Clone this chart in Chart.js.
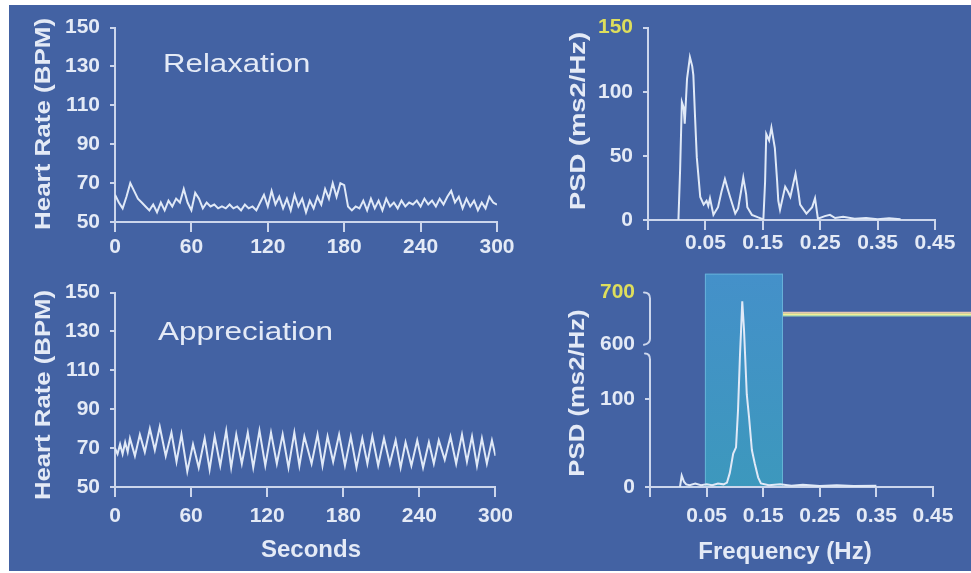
<!DOCTYPE html>
<html><head><meta charset="utf-8">
<script src="https://cdn.jsdelivr.net/npm/chart.js@4.4.1/dist/chart.umd.min.js"></script>
<style>
html,body{margin:0;padding:0;background:#fff;}
#wrap{position:relative;width:971px;height:573px;overflow:hidden;background:#fff;}
#panel{position:absolute;left:9px;top:5px;width:962px;height:566px;background:#4362a3;}
canvas{position:absolute;}
</style></head><body>
<div id="wrap"><div id="panel"></div>
<canvas id="cA" width="511" height="265" style="left:9px;top:5px"></canvas>
<canvas id="cB" width="451" height="265" style="left:520px;top:5px"></canvas>
<canvas id="cC" width="511" height="301" style="left:9px;top:270px"></canvas>
<canvas id="cD" width="451" height="301" style="left:520px;top:270px"></canvas>
</div>
<script>
// ---------------- DATA ----------------
const relaxStep = 3; // seconds between samples
const relaxHR = [64,60,57,63,70,66,62,60,58,56,
  59,55,60,56,61,58,62,60,67,60,
  56,65,62,57,60,58,59,57,58,57,
  59,57,58,56,59,57,58,56,60,64,
  58,66,59,63,57,62,56,64,58,62,
  55,61,57,63,59,67,62,70,63,70,
  69,58,56,58,57,61,56,62,57,61,
  56,62,58,60,57,61,58,60,59,61,
  58,62,59,61,58,62,59,63,66,60,
  63,57,62,58,61,56,60,57,63,60,
  59];
const apprTime = [0,2,4,6,8,10,11.8,15.7,19.6,23.5,27.5,31.4,35.3,40,44.5,48.5,
  52.4,57,61.5,66,70.7,74.6,78.6,83,87.7,91.6,95.6,100,104.7,109,113.9,118.5,123,127.6,132.2,136.8,
  141.4,145.4,149.3,155,159.7,163.6,167.6,172,176.7,181.3,185.9,190.4,195,199,202.9,207.5,212.1,216.7,221.3,225.2,
  229.1,233.7,238.3,242.9,247.5,251.4,255.3,260,264.5,269,273.6,277.5,281.5,285.4,289.3,293.2,297.2,300];
const apprHR = [70,67,72,67,73,68,75,66,77,68,80,69,81,66,78,63,
  77,58,72,60,75,59,76,61,79,60,77,62,78,60,79,61,78,62,77,60,
  78,61,76,62,77,61,76,63,77,61,76,60,75,62,76,61,75,62,74,60,
  73,61,74,60,73,62,74,64,76,62,77,63,76,61,75,62,74,66];

const relaxFreq = [0.003,0.006,0.009,0.012,0.014,0.018,0.023,0.027,0.029,0.032,
  0.035,0.041,0.047,0.052,0.055,0.058,0.064,0.072,0.078,0.084,
  0.089,0.093,0.102,0.107,0.112,0.116,0.121,0.123,0.131,0.142,
  0.151,0.154,0.156,0.161,0.165,0.171,0.175,0.177,0.180,0.189,
  0.194,0.198,0.207,0.212,0.215,0.226,0.236,0.241,0.246,0.258,
  0.267,0.276,0.29,0.31,0.33,0.35,0.37,0.39];
const relaxPSD = [0,40,92,88,75,110,127,120,113,80,
  49,18,12,15,11,17,4,10,22,32,
  24,18,5,9,22,33,20,10,4,2,
  0.5,30,67,62,72,56,30,15,8,26,
  22,18,36,22,12,5,10,17,1,3,
  4,1.5,2.5,1,1.5,0.6,1.3,0.5];

const apprFreq = [0.003,0.006,0.010,0.014,0.02,0.03,0.04,0.05,0.06,0.07,
  0.08,0.086,0.091,0.097,0.102,0.1055,0.109,0.111,0.113,0.116,
  0.118,0.121,0.125,0.130,0.135,0.141,0.146,0.16,0.18,0.2,
  0.22,0.25,0.28,0.31,0.35];
const apprPSD = [0,13,6,3,2,4,2,3,2,4,
  3,5,16,38,45,87,150,629,683,630,
  150,105,79,42,27,11,4,2,3,1.5,
  2.5,1,2,1,1.5];

const hrTicks = [50,70,90,110,130,150];
const secTicks = [0,60,120,180,240,300];
const freqTicks = [-0.05,0.05,0.15,0.25,0.35,0.45];
const psdTicksTop = [0,50,100,150];
const psdTicksBottom = [0,100,600,700];
const psdBreak = [150,590];          // values hidden by the axis break
const coherenceBand = [0.047,0.185]; // highlighted frequency band (Hz)

// ---------------- STYLE ----------------
const FONT = "'Liberation Sans', Arial, Helvetica, sans-serif";
const LABEL = '#e4eaf6';
const AXIS = '#ccd6ec';
const TRACE = '#e0e9f7';
const YELLOW = '#dede5c';
const tickFont = {family: FONT, size: 21, weight: 'bold'};

// Broken linear scale (axis break between psdBreak[0] and psdBreak[1])
class BrokenScale extends Chart.LinearScale {
  _frac(v) {
    const lo = psdBreak[0], hi = psdBreak[1], lowShare = 0.68, gapShare = 0.03;
    const mx = this.max;
    if (v <= lo) return (v - this.min) / (lo - this.min) * lowShare;
    if (v <= hi) return lowShare + (v - lo) / (hi - lo) * gapShare;
    return lowShare + gapShare + (v - hi) / (mx - hi) * (1 - lowShare - gapShare);
  }
  getPixelForValue(v) {
    return this.bottom - this._frac(v) * (this.bottom - this.top);
  }
  getValueForPixel(p) {
    const f = (this.bottom - p) / (this.bottom - this.top);
    const lo = psdBreak[0], hi = psdBreak[1], lowShare = 0.68, gapShare = 0.03;
    if (f <= lowShare) return this.min + f / lowShare * (lo - this.min);
    if (f <= lowShare + gapShare) return lo + (f - lowShare) / gapShare * (hi - lo);
    return hi + (f - lowShare - gapShare) / (1 - lowShare - gapShare) * (this.max - hi);
  }
}
BrokenScale.id = 'brokenLinear';
Chart.register(BrokenScale);

const overlayText = {
  id: 'overlayText',
  afterDraw(chart, args, opts) {
    const ctx = chart.ctx;
    (opts.items || []).forEach(it => {
      ctx.save();
      ctx.translate(it.x, it.y);
      if (it.rot) ctx.rotate(it.rot);
      ctx.scale(it.sx || 1, 1);
      ctx.font = it.font;
      ctx.fillStyle = it.color || LABEL;
      ctx.textAlign = it.align || 'center';
      ctx.textBaseline = it.baseline || 'middle';
      ctx.fillText(it.text, 0, 0);
      ctx.restore();
    });
  }
};

const psdDecor = {
  id: 'psdDecor',
  beforeDraw(chart, args, o) {
    const {ctx, scales: {x, y}} = chart;
    const x0 = x.getPixelForValue(o.band[0]), x1 = x.getPixelForValue(o.band[1]);
    const yT = y.getPixelForValue(o.bandTop), yB = y.getPixelForValue(0);
    const g = ctx.createLinearGradient(0, yT, 0, yB);
    g.addColorStop(0, 'rgba(70,190,240,0.5)');
    g.addColorStop(1, 'rgba(55,205,215,0.5)');
    ctx.save();
    ctx.fillStyle = g;
    ctx.fillRect(x0, yT, x1 - x0, yB - yT);
    ctx.strokeStyle = 'rgba(140,210,235,0.5)';
    ctx.lineWidth = 1;
    ctx.strokeRect(x0 + 0.5, yT + 0.5, x1 - x0 - 1, yB - yT - 1);
    ctx.restore();
  },
  beforeDatasetsDraw(chart) {
    const {ctx, scales: {y}, chartArea} = chart;
    const xa = chartArea.left;
    const pTop = y.getPixelForValue(y.max);
    const p600 = y.getPixelForValue(psdTicksBottom[2]);
    const pLow = y.getPixelForValue(psdBreak[0] - 2);
    ctx.save();
    ctx.strokeStyle = AXIS; ctx.lineWidth = 2; ctx.lineCap = 'round';
    ctx.beginPath();
    ctx.moveTo(xa - 6, pTop);
    ctx.quadraticCurveTo(xa, pTop, xa, pTop + 6);
    ctx.lineTo(xa, p600 - 5);
    ctx.quadraticCurveTo(xa, p600, xa - 6, p600 + 1);
    ctx.stroke();
    ctx.beginPath();
    ctx.moveTo(xa - 5, pLow - 3);
    ctx.quadraticCurveTo(xa, pLow - 3, xa, pLow + 3);
    ctx.lineTo(xa, chartArea.bottom);
    ctx.stroke();
    ctx.restore();
  },
  afterDraw(chart, args, o) {
    const {ctx, scales: {x, y}, width} = chart;
    const x1 = x.getPixelForValue(o.band[1]);
    const ym = y.getPixelForValue(o.marker);
    ctx.save();
    ctx.lineWidth = 1.5; ctx.strokeStyle = '#e6c7b4';
    ctx.beginPath(); ctx.moveTo(x1, ym - 1.6); ctx.lineTo(width, ym - 1.6); ctx.stroke();
    ctx.lineWidth = 1.5; ctx.strokeStyle = '#9fd6b6';
    ctx.beginPath(); ctx.moveTo(x1, ym + 1.6); ctx.lineTo(width, ym + 1.6); ctx.stroke();
    ctx.lineWidth = 2; ctx.strokeStyle = '#f4ef96';
    ctx.beginPath(); ctx.moveTo(x1, ym); ctx.lineTo(width, ym); ctx.stroke();
    ctx.restore();
  }
};

function fixedTicks(values) { return s => { s.ticks = values.map(v => ({value: v})); }; }

function axisX(o) {
  return {
    type: 'linear', min: o.min, max: o.max,
    afterBuildTicks: fixedTicks(o.ticks),
    afterFit: s => { s.height = o.height; },
    ticks: {font: tickFont, color: LABEL, padding: o.pad, maxRotation: 0, minRotation: 0, autoSkip: false,
      callback: o.cb || (v => String(v))},
    grid: {drawOnChartArea: false, drawTicks: true, tickLength: 10, color: AXIS, lineWidth: 2},
    border: {display: true, color: AXIS, width: 2}
  };
}
function axisY(o) {
  return {
    type: o.type || 'linear', min: o.min, max: o.max,
    afterBuildTicks: fixedTicks(o.ticks),
    afterFit: s => { s.width = o.width; },
    ticks: {font: tickFont, color: o.color || LABEL, padding: 10, autoSkip: false, callback: v => String(v)},
    grid: {drawOnChartArea: false, drawTicks: true, tickLength: 5, color: o.gridColor || AXIS, lineWidth: 2},
    border: {display: o.border !== false, color: AXIS, width: 2}
  };
}
function makeChart(id, points, scales, padding, items, extra, extraOpts) {
  const plugins = {legend: {display: false}, tooltip: {enabled: false}, overlayText: {items}};
  Object.assign(plugins, extraOpts || {});
  return new Chart(document.getElementById(id), {
    type: 'line',
    data: {datasets: [{data: points, borderColor: TRACE, borderWidth: 2, pointRadius: 0, tension: 0, fill: false}]},
    options: {responsive: false, animation: false, devicePixelRatio: 1, layout: {padding}, plugins, scales},
    plugins: [overlayText].concat(extra || [])
  });
}
const freqLabel = v => (Math.abs(v + 0.05) < 1e-9 ? '' : v.toFixed(2));
const hl = c => (c.tick && (c.tick.value === 150 || c.tick.value === 700) ? YELLOW : LABEL);

// A: Relaxation heart rate
makeChart('cA', relaxHR.map((v, i) => ({x: i * relaxStep, y: v})), {
  x: axisX({min: 0, max: 300, ticks: secTicks, height: 48, pad: 3}),
  y: axisY({min: 50, max: 150, ticks: hrTicks, width: 106})
}, {left: 0, top: 20, right: 23, bottom: 0}, [
  {text: 'Relaxation', x: 154, y: 67, font: `26px ${FONT}`, sx: 1.2, align: 'left', baseline: 'alphabetic'},
  {text: 'Heart Rate (BPM)', x: 35, y: 119, font: `bold 22px ${FONT}`, sx: 1.18, rot: -Math.PI / 2}
]);

// B: Relaxation PSD
makeChart('cB', relaxFreq.map((f, i) => ({x: f, y: relaxPSD[i]})), {
  x: axisX({min: -0.05, max: 0.45, ticks: freqTicks, height: 50, pad: 1, cb: freqLabel}),
  y: axisY({min: 0, max: 150, ticks: psdTicksTop, width: 128, color: hl})
}, {left: 0, top: 20, right: 36, bottom: 0}, [
  {text: 'PSD (ms2/Hz)', x: 59, y: 116, font: `bold 22px ${FONT}`, sx: 1.245, rot: -Math.PI / 2}
]);

// C: Appreciation heart rate
makeChart('cC', apprTime.map((t, i) => ({x: t, y: apprHR[i]})), {
  x: axisX({min: 0, max: 300, ticks: secTicks, height: 84, pad: 7}),
  y: axisY({min: 50, max: 150, ticks: hrTicks, width: 106})
}, {left: 0, top: 20, right: 23, bottom: 0}, [
  {text: 'Appreciation', x: 149, y: 70, font: `26px ${FONT}`, sx: 1.21, align: 'left', baseline: 'alphabetic'},
  {text: 'Heart Rate (BPM)', x: 35, y: 125, font: `bold 22px ${FONT}`, sx: 1.17, rot: -Math.PI / 2},
  {text: 'Seconds', x: 302, y: 280, font: `bold 24px ${FONT}`}
]);

// D: Appreciation PSD (broken axis)
makeChart('cD', apprFreq.map((f, i) => ({x: f, y: apprPSD[i]})), {
  x: axisX({min: -0.05, max: 0.45, ticks: freqTicks, height: 84, pad: 7, cb: freqLabel}),
  y: axisY({type: 'brokenLinear', min: 0, max: 700, ticks: psdTicksBottom, width: 130, color: hl, border: false,
    gridColor: c => (c.tick && c.tick.value >= 600 ? 'rgba(0,0,0,0)' : AXIS)})
}, {left: 0, top: 20, right: 38, bottom: 0}, [
  {text: 'PSD (ms2/Hz)', x: 58, y: 123, font: `bold 22px ${FONT}`, sx: 1.17, rot: -Math.PI / 2},
  {text: 'Frequency (Hz)', x: 265, y: 282, font: `bold 24px ${FONT}`}
], [psdDecor], {psdDecor: {band: coherenceBand, bandTop: 737, marker: 658}});
</script>
</body></html>
